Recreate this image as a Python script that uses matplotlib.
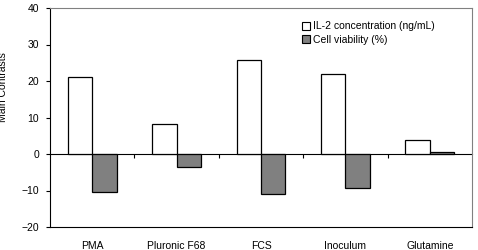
import numpy as np
import matplotlib.pyplot as plt
from matplotlib.patches import Patch

plt.rcParams['font.family'] = ['Liberation Sans', 'DejaVu Sans']

factors = ['PMA', 'Pluronic F68', 'FCS', 'Inoculum', 'Glutamine']
il2 = [21.2, 8.3, 25.7, 21.8, 3.8]
viability = [-10.4, -3.6, -11.0, -9.3, 0.6]

fig = plt.figure(figsize=(4.78, 2.5), dpi=100)
ax = fig.add_axes([50 / 478, 23 / 250, 422 / 478, 219 / 250])

x = np.arange(len(factors))
w = 0.29
ax.bar(x - w / 2, il2, w, color='white', edgecolor='black', linewidth=0.9, zorder=3)
ax.bar(x + w / 2, viability, w, color='#808080', edgecolor='black', linewidth=0.9, zorder=3)

ax.set_xlim(-0.5, len(factors) - 0.5)
ax.set_ylim(-20, 40)
ax.set_yticks(range(-20, 41, 10))
ax.tick_params(axis='y', labelsize=7.5, length=3, width=0.8, pad=5)

ax.set_xticks(x)
ax.set_xticklabels(factors, fontsize=7.5)
ax.tick_params(axis='x', length=0, pad=10)

# zero line with boundary tick marks
zero_ax = ax.secondary_xaxis(1 / 3)
zero_ax.set_xticks(np.arange(0.5, len(factors) - 0.5, 1))
zero_ax.set_xticklabels([])
zero_ax.xaxis.set_ticks_position('bottom')
zero_ax.tick_params(axis='x', direction='out', length=3, width=0.8)
zero_ax.spines['bottom'].set_linewidth(0.8)

for s in ['top', 'right']:
    ax.spines[s].set_color('#808080')
for s in ax.spines.values():
    s.set_linewidth(0.8)

handles = [Patch(facecolor='white', edgecolor='black', linewidth=0.8),
           Patch(facecolor='#808080', edgecolor='black', linewidth=0.8)]
ax.legend(handles, ['IL-2 concentration (ng/mL)', 'Cell viability (%)'],
          loc='upper left', bbox_to_anchor=(0.575, 0.982), frameon=False, fontsize=7.5,
          handlelength=0.8, handleheight=0.8, handletextpad=0.3, labelspacing=0.35)

fig.text(3.5 / 478, 1 - 87 / 250, 'Main Contrasts', rotation=90, fontsize=7.5,
         ha='center', va='center')

fig.savefig('out.png', dpi=100)
